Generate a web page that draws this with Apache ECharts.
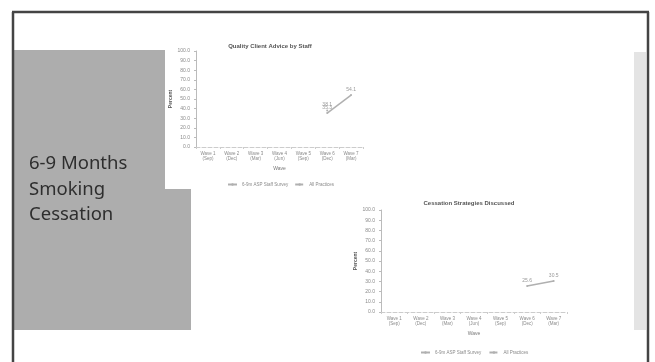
<!DOCTYPE html>
<html>
<head>
<meta charset="utf-8">
<script src="https://cdn.jsdelivr.net/npm/echarts@6/dist/echarts.min.js"></script>
<style>
  html, body { margin: 0; padding: 0; background: #fff; }
  #main { width: 655px; height: 362px; }
</style>
</head>
<body>
<div id="main"></div>
<script>
// Survey waves shown on both charts
const waves = ['Wave 1\n(Sep)', 'Wave 2\n(Dec)', 'Wave 3\n(Mar)', 'Wave 4\n(Jun)', 'Wave 5\n(Sep)', 'Wave 6\n(Dec)', 'Wave 7\n(Mar)'];
const yTicks = [0, 10, 20, 30, 40, 50, 60, 70, 80, 90, 100];

// Chart 1: client advice
const adviceStaff = [null, null, null, null, null, 35.3, 54.1];
const advicePractices = [null, null, null, null, null, 38.1, null];

// Chart 2: cessation strategies
const strategiesStaff = [null, null, null, null, null, 25.6, 30.5];
const strategiesPractices = [null, null, null, null, null, null, null];

const seriesNames = ['6-9m ASP Staff Survey', 'All Practices'];

const chart = echarts.init(document.getElementById('main'), null, { renderer: 'canvas' });

const txt = '#8a8a8a';
const lineCol = '#b0b0b0';

function yAxis(gridIndex) {
  return {
    type: 'value', gridIndex, min: yTicks[0], max: yTicks[yTicks.length - 1], interval: 10,
    name: 'Percent', nameLocation: 'middle', nameGap: 20, nameRotate: 90,
    nameTextStyle: { color: '#555', fontSize: 5, fontWeight: 'bold' },
    axisLine: { show: true, lineStyle: { color: '#bbb', width: 1 } },
    axisTick: { show: true, length: 2, lineStyle: { color: '#bbb' } },
    axisLabel: { color: txt, fontSize: 5, margin: 6, formatter: v => v.toFixed(1) },
    splitLine: { show: false }
  };
}
function xAxis(gridIndex) {
  return {
    type: 'category', gridIndex, data: waves, boundaryGap: true,
    name: 'Wave', nameLocation: 'middle', nameGap: 19,
    nameTextStyle: { color: '#777', fontSize: 5 },
    axisLine: { lineStyle: { color: '#ccc', type: 'dashed', width: 1 } },
    axisTick: { show: true, length: 2, lineStyle: { color: '#ccc' } },
    axisLabel: { color: txt, fontSize: 4.5, lineHeight: 5, margin: 4, interval: 0 }
  };
}
function lineSeries(name, data, idx, dashed) {
  return {
    name, type: 'line', xAxisIndex: idx, yAxisIndex: idx, data,
    connectNulls: false, symbol: 'circle', symbolSize: 2,
    lineStyle: { color: lineCol, width: 1.5, type: dashed ? 'dashed' : 'solid' },
    itemStyle: { color: lineCol },
    label: { show: true, position: 'top', distance: 2, fontSize: 5, color: '#999', formatter: p => p.value.toFixed(1) }
  };
}

chart.setOption({
  animation: false,
  backgroundColor: '#ffffff',
  title: [
    { text: 'Quality Client Advice by Staff', left: 265, top: 38, textAlign: 'center',
      textStyle: { fontSize: 6, fontWeight: 'bold', color: '#555' } },
    { text: 'Cessation Strategies Discussed', left: 464, top: 195, textAlign: 'center',
      textStyle: { fontSize: 6, fontWeight: 'bold', color: '#555' } }
  ],
  legend: [
    { data: seriesNames, left: 222, top: 177, itemWidth: 9, itemHeight: 3, itemGap: 6,
      textStyle: { fontSize: 4.5, color: txt } },
    { data: seriesNames.map(n => ({ name: n + ' ' })), left: 415, top: 345, itemWidth: 9, itemHeight: 3, itemGap: 6,
      textStyle: { fontSize: 4.5, color: txt } }
  ],
  grid: [
    { left: 196, top: 51, width: 167, height: 96 },
    { left: 381, top: 210, width: 186, height: 102 }
  ],
  xAxis: [xAxis(0), xAxis(1)],
  yAxis: [yAxis(0), yAxis(1)],
  series: [
    lineSeries(seriesNames[0], adviceStaff, 0, false),
    lineSeries(seriesNames[1], advicePractices, 0, true),
    lineSeries(seriesNames[0] + ' ', strategiesStaff, 1, false),
    lineSeries(seriesNames[1] + ' ', strategiesPractices, 1, true)
  ],
  graphic: [
    // slide frame
    { type: 'line', shape: { x1: 12, y1: 12, x2: 649, y2: 12 }, style: { stroke: '#444', lineWidth: 2.5 }, z: 10 },
    { type: 'line', shape: { x1: 13, y1: 12, x2: 13, y2: 362 }, style: { stroke: '#444', lineWidth: 2.5 }, z: 10 },
    { type: 'line', shape: { x1: 648, y1: 12, x2: 648, y2: 362 }, style: { stroke: '#444', lineWidth: 2.5 }, z: 10 },
    // grey title panel
    { type: 'polygon', shape: { points: [[14, 50], [165, 50], [165, 189], [191, 189], [191, 330], [14, 330]] },
      style: { fill: '#adadad' }, z: -1 },
    // pale strip on the right
    { type: 'rect', shape: { x: 634, y: 52, width: 12, height: 278 }, style: { fill: '#e4e4e4' }, z: -1 },
    // slide heading
    { type: 'text', left: 29, top: 151, z: 5,
      style: { text: '6-9 Months\nSmoking\nCessation', fill: '#2e2e2e', font: '18.5px "Noto Sans", sans-serif', lineHeight: 25.5 } }
  ]
});
</script>
</body>
</html>
